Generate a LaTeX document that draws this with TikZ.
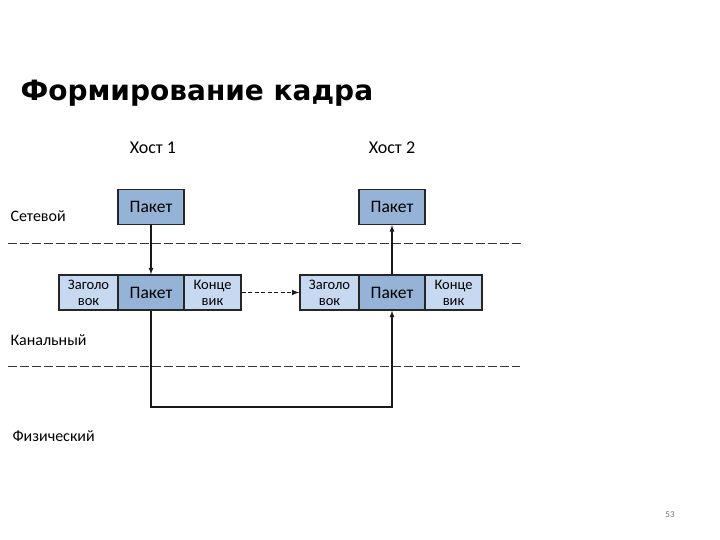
\documentclass[tikz,border=0pt]{standalone}
\usepackage{fontspec}
\setmainfont{Carlito}
\newfontfamily\titlefont{DejaVu Sans}
\usetikzlibrary{positioning}

\definecolor{pktblue}{HTML}{95B3D7}
\definecolor{hdrblue}{HTML}{C6D9F1}
\tikzset{
	pkt/.style={draw=black!85,line width=1.4pt,fill=pktblue,minimum width=66pt,minimum height=35pt,inner sep=0pt,font=\fontsize{17.5}{19}\selectfont},
	hdr/.style={pkt,fill=hdrblue,minimum width=59pt,align=center,font=\fontsize{14.5}{16}\selectfont},
	layer/.style={right,font=\fontsize{16}{18}\selectfont},
	sep/.style={black!80,line width=0.9pt,dash pattern=on 9pt off 3pt},
	link/.style={black!90,line width=1.2pt,-latex}
}

\begin{document}
\begin{tikzpicture}[x=1pt,y=1pt]
	\useasboundingbox (0,0) rectangle (720,540);
	\node at (17,447)[right,font=\titlefont\bfseries\fontsize{28}{32}\selectfont]{Формирование кадра};
	\node (host1) at (153,392)[font=\fontsize{18}{20}\selectfont]{Хост 1};
	\node (host2) at (392,392)[font=\fontsize{18}{20}\selectfont]{Хост 2};
	% layers
	\node (net) at (7,324)[layer]{Сетевой};
	\node (dl) at (7,200)[layer]{Канальный};
	\node (phy) at (9,104)[layer]{Физический};
	\draw[sep] (8,297)--(522,297);
	\draw[sep] (8,174)--(520,174);
	% host 1
	\node (a1) at (151,333)[pkt]{Пакет};
	\node (p1) at (151,247.5)[pkt]{Пакет};
	\node (h1) [hdr,left=-1.4pt of p1]{Заголо\\вок};
	\node (t1) [hdr,right=-1.4pt of p1,minimum width=57pt]{Конце\\вик};
	% host 2
	\node (a2) at (392,333)[pkt]{Пакет};
	\node (p2) at (392,247.5)[pkt]{Пакет};
	\node (h2) [hdr,left=-1.4pt of p2]{Заголо\\вок};
	\node (t2) [hdr,right=-1.4pt of p2,minimum width=57pt]{Конце\\вик};
	% connectors
	\draw[link] (a1.south)--(p1.north);
	\draw[link] (p2.north)--(a2.south);
	\draw[link,line width=1.5pt,dash pattern=on 4pt off 2.5pt] (t1.east)--(h2.west);
	\coordinate (bend) at (151,133);
	\draw[link] (p1.south)--(bend)-|(p2.south);
	\node (page) at (670,25)[text=black!55,font=\fontsize{9}{10}\selectfont]{53};
\end{tikzpicture}
\end{document}
